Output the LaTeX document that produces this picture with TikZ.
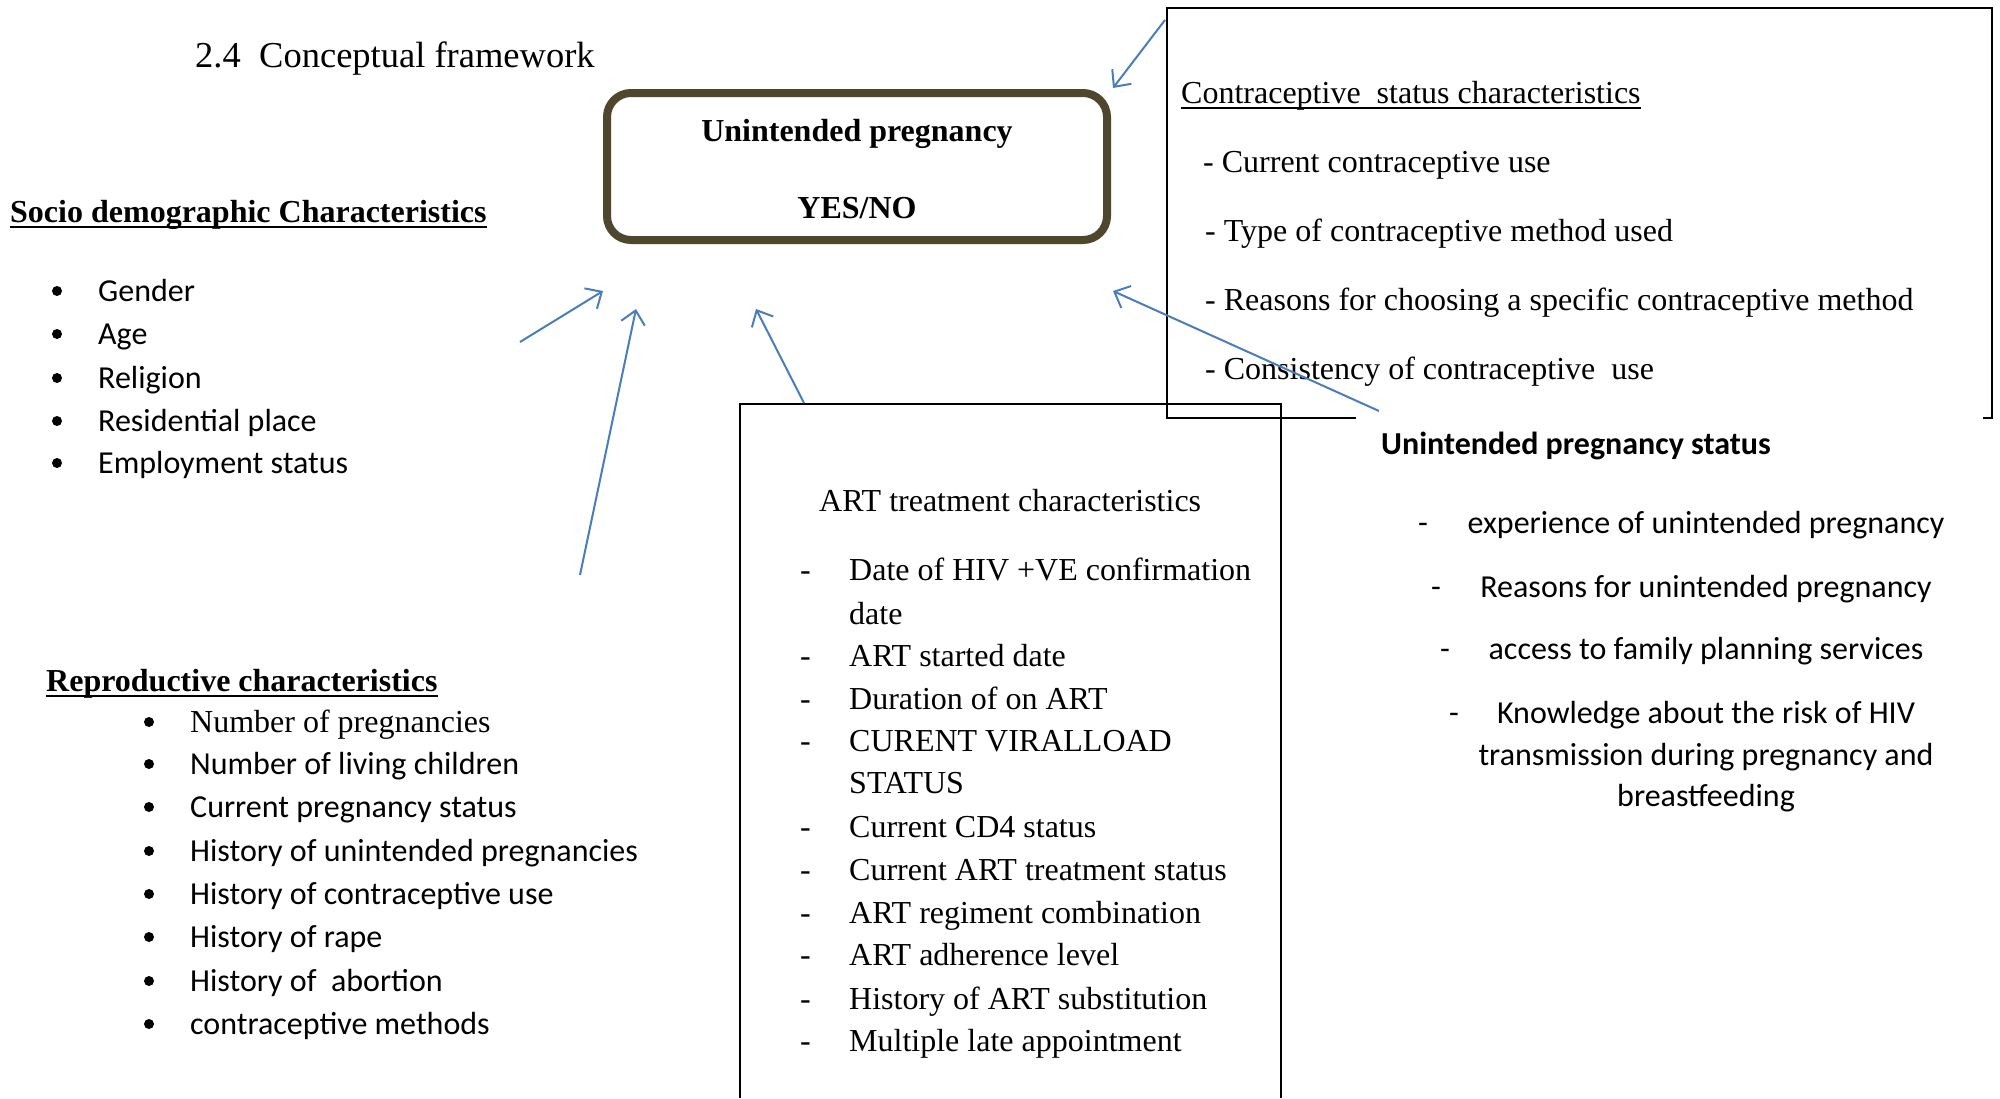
\documentclass[tikz,border=0pt]{standalone}
\usepackage{fontspec}
\setmainfont{Liberation Serif}
\newfontfamily\calib{Carlito}
\usetikzlibrary{arrows.meta}
\definecolor{arrowblue}{RGB}{74,126,187}
\definecolor{boxbrown}{RGB}{78,70,45}
\begin{document}
\begin{tikzpicture}[x=1pt,y=-1pt,
  txt/.style={inner sep=0pt, anchor=base west, font=\fontsize{32}{38}\selectfont},
  btxt/.style={inner sep=0pt, anchor=base west, font=\bfseries\fontsize{32}{38}\selectfont},
  stxt/.style={inner sep=0pt, anchor=base west, font=\calib\fontsize{32}{38}\selectfont},
  sctxt/.style={inner sep=0pt, anchor=base, font=\calib\fontsize{32}{38}\selectfont},
  bul/.style={circle, fill=black, inner sep=0pt, minimum size=10pt},
  arr/.style={draw=arrowblue, line width=2pt, -{Straight Barb[length=13pt,width=24pt,line width=2pt]}},
  frame/.style={draw=black, line width=2pt}
]
\useasboundingbox (0,0) rectangle (2000,1098);
\fill[white] (0,0) rectangle (2000,1098);

% title
\node[txt, font=\fontsize{36.5}{40}\selectfont] (num) at (195,67) {2.4};
\node[txt, font=\fontsize{36.5}{40}\selectfont] (title) at (259,67) {Conceptual framework};

% central box
\node[draw=boxbrown, line width=8pt, rounded corners=24pt, minimum width=500pt, minimum height=147pt, inner sep=0pt] (central) at (857,166.5) {};
\node[inner sep=0pt, anchor=base, font=\bfseries\fontsize{32}{38}\selectfont] (cu) at (857,141) {Unintended pregnancy};
\node[inner sep=0pt, anchor=base, font=\bfseries\fontsize{32}{38}\selectfont] (cy) at (857,218) {YES/NO};

% socio demographic
\node[btxt] (soc) at (10,222) {Socio demographic Characteristics};
\draw[line width=2.5pt] ([yshift=-5pt]soc.base west) -- ([yshift=-5pt]soc.base east);
\node[bul] (sb1) at (57,291) {};
\node[bul] (sb2) at (57,334) {};
\node[bul] (sb3) at (57,378) {};
\node[bul] (sb4) at (57,421) {};
\node[bul] (sb5) at (57,463) {};
\node[stxt] (s1) at (98,301) {Gender};
\node[stxt] (s2) at (98,344) {Age};
\node[stxt] (s3) at (98,388) {Religion};
\node[stxt] (s4) at (98,431) {Residential place};
\node[stxt] (s5) at (98,473) {Employment status};

% reproductive
\node[btxt] (rep) at (46,691) {Reproductive characteristics};
\draw[line width=2.5pt] ([yshift=-5pt]rep.base west) -- ([yshift=-5pt]rep.base east);
\node[bul] (rb1) at (149,722) {};
\node[bul] (rb2) at (149,764) {};
\node[bul] (rb3) at (149,807) {};
\node[bul] (rb4) at (149,851) {};
\node[bul] (rb5) at (149,894) {};
\node[bul] (rb6) at (149,937) {};
\node[bul] (rb7) at (149,981) {};
\node[bul] (rb8) at (149,1024) {};
\node[txt] (r1) at (190,732) {Number of pregnancies};
\node[stxt] (r2) at (190,774) {Number of living children};
\node[stxt] (r3) at (190,817) {Current pregnancy status};
\node[stxt] (r4) at (190,861) {History of unintended pregnancies};
\node[stxt] (r5) at (190,904) {History of contraceptive use};
\node[stxt] (r6) at (190,947) {History of rape};
\node[stxt] (r7) at (190,991) {History of\ \ abortion};
\node[stxt] (r8) at (190,1034) {contraceptive methods};

% contraceptive box
\draw[frame] (1356,418) -- (1167,418) -- (1167,8) -- (1992,8) -- (1992,418) -- (1983,418);
\node[txt] (ch) at (1181,103) {Contraceptive\ \ status characteristics};
\draw[line width=1.5pt] ([yshift=-5pt]ch.base west) -- ([yshift=-5pt]ch.base east);
\node[txt] (c1) at (1203,172) {- Current contraceptive use};
\node[txt] (c2) at (1205,241) {- Type of contraceptive method used};
\node[txt] (c3) at (1205,310) {- Reasons for choosing a specific contraceptive method};
\node[txt] (c4) at (1205,379) {- Consistency of contraceptive\ \ use};

% ART box
\draw[frame] (740,1098) -- (740,404) -- (1281,404) -- (1281,1098);
\node[txt] (ah) at (819,511) {ART treatment characteristics};
\foreach \y/\n in {580/d1,666/d2,709/d3,751/d4,837/d5,880/d6,923/d7,965/d8,1009/d9,1051/d10}
  \node[txt] (\n) at (800,\y) {-};
\node[txt] (a1) at (849,580) {Date of HIV +VE confirmation};
\node[txt] (a1b) at (849,624) {date};
\node[txt] (a2) at (849,666) {ART started date};
\node[txt] (a3) at (849,709) {Duration of on ART};
\node[txt] (a4) at (849,751) {CURENT VIRALLOAD};
\node[txt] (a4b) at (849,793) {STATUS};
\node[txt] (a5) at (849,837) {Current CD4 status};
\node[txt] (a6) at (849,880) {Current ART treatment status};
\node[txt] (a7) at (849,923) {ART regiment combination};
\node[txt] (a8) at (849,965) {ART adherence level};
\node[txt] (a9) at (849,1009) {History of ART substitution};
\node[txt] (a10) at (849,1051) {Multiple late appointment};

% unintended pregnancy status
\node[inner sep=0pt, anchor=base west, font=\calib\bfseries\fontsize{32}{38}\selectfont] (us) at (1381,454) {Unintended pregnancy status};
\node[sctxt] (u1) at (1706,533) {experience of unintended pregnancy};
\node[sctxt] (u2) at (1706,597) {Reasons for unintended pregnancy};
\node[sctxt] (u3) at (1706,659) {access to family planning services};
\node[sctxt] (u4) at (1706,723) {Knowledge about the risk of HIV};
\node[sctxt] (u4b) at (1706,765) {transmission during pregnancy and};
\node[sctxt] (u4c) at (1706,806) {breastfeeding};
\node[sctxt] (ud1) at (1423,533) {-};
\node[sctxt] (ud2) at (1436,597) {-};
\node[sctxt] (ud3) at (1445,659) {-};
\node[sctxt] (ud4) at (1454,723) {-};

% arrows
\coordinate (t1) at (1165,20);  \coordinate (h1) at (1113,88);
\coordinate (t2) at (520,342);  \coordinate (h2) at (603,291);
\coordinate (t3) at (580,575);  \coordinate (h3) at (636,309);
\coordinate (t4) at (804,403);  \coordinate (h4) at (756,309);
\coordinate (t5) at (1379,411); \coordinate (h5) at (1113,291);
\draw[arr] (t1) -- (h1);
\draw[arr] (t2) -- (h2);
\draw[arr] (t3) -- (h3);
\draw[arr] (t4) -- (h4);
\draw[arr] (t5) -- (h5);
\end{tikzpicture}
\end{document}
